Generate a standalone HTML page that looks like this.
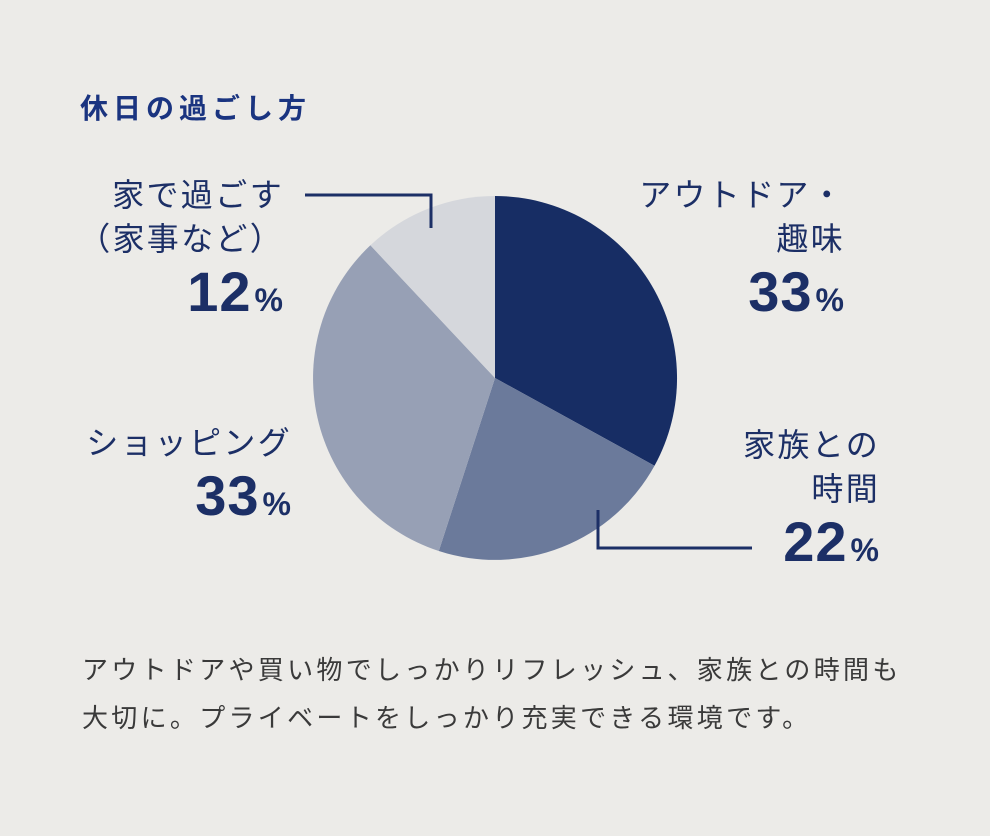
<!DOCTYPE html>
<html><head><meta charset="utf-8"><style>
body{margin:0;width:990px;height:836px;background:#ecebe8;position:relative;overflow:hidden;font-family:"Liberation Sans","Noto Sans CJK JP",sans-serif;}
.a{position:absolute;text-align:right;color:#1c2f66;}
.l{font-size:32px;line-height:44px;letter-spacing:2.3px;}
.n{font-size:56px;font-weight:bold;line-height:62px;letter-spacing:1px;}
.n small{font-size:32px;font-weight:bold;margin-left:3px;}
</style></head><body>
<div style="position:absolute;left:80px;top:87px;font-size:28px;font-weight:bold;color:#1a3480;letter-spacing:5px;">休日の過ごし方</div>
<svg width="990" height="836" style="position:absolute;left:0;top:0">
<path d="M495,378 L495,196 A182,182 0 0,1 654.5,465.7 Z" fill="#172d64"/>
<path d="M495,378 L654.5,465.7 A182,182 0 0,1 438.8,551 Z" fill="#6b7a9b"/>
<path d="M495,378 L438.8,551 A182,182 0 0,1 370.4,245.3 Z" fill="#97a0b5"/>
<path d="M495,378 L370.4,245.3 A182,182 0 0,1 495,196 Z" fill="#d5d7dc"/>
<polyline points="305,195 431,195 431,228" fill="none" stroke="#1c2f66" stroke-width="3"/>
<polyline points="598,510 598,548 752,548" fill="none" stroke="#1c2f66" stroke-width="3"/>
</svg>
<div class="a" style="right:706px;top:173px"><div class="l">家で過ごす<br>（家事など）</div><div class="n">12<small>%</small></div></div>
<div class="a" style="right:145px;top:173px"><div class="l">アウトドア・<br>趣味</div><div class="n">33<small>%</small></div></div>
<div class="a" style="right:698px;top:421px"><div class="l">ショッピング</div><div class="n">33<small>%</small></div></div>
<div class="a" style="right:110px;top:423px"><div class="l">家族との<br>時間</div><div class="n">22<small>%</small></div></div>
<div style="position:absolute;left:82px;top:646px;font-size:26px;line-height:48px;color:#3a3a3a;letter-spacing:3.3px;white-space:nowrap;">アウトドアや買い物でしっかりリフレッシュ、家族との時間も<br>大切に。プライベートをしっかり充実できる環境です。</div>
</body></html>
